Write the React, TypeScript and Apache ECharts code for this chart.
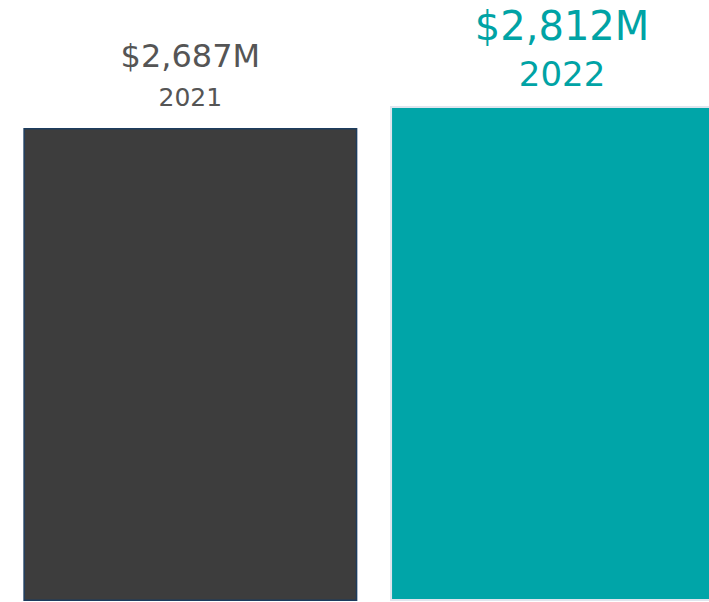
import React, { useEffect, useRef } from "react";
import * as echarts from "echarts";

const categories = ["2021", "2022"];
const values = [2687, 2812];
const valueLabels = ["$2,687M", "$2,812M"];

export default function App() {
  const ref = useRef<HTMLDivElement>(null);
  useEffect(() => {
    if (!ref.current) return;
    const chart = echarts.init(ref.current, null, { renderer: "svg" });
    const font = "DejaVu Sans";
    const styles = [
      {
        fill: "#3d3d3d",
        border: "#1d3c5e",
        bw: 1.5,
        text: "#555555",
        aSize: 32,
        bSize: 25,
        aLH: 50,
        bLH: 32,
        dist: 15,
        dx: 0,
      },
      {
        fill: "#00a5a8",
        border: "#dfe5ee",
        bw: 2,
        text: "#00a3a5",
        aSize: 40,
        bSize: 34,
        aLH: 61,
        bLH: 36,
        dist: 14,
        dx: 5,
      },
    ];
    chart.setOption({
      animation: false,
      backgroundColor: "#ffffff",
      grid: { left: 7, right: -31.4, top: 106, bottom: 1, outerBoundsMode: "none", containLabel: false },
      xAxis: {
        type: "category",
        data: categories,
        show: false,
      },
      yAxis: { type: "value", min: 0, max: "dataMax", show: false },
      series: [
        {
          type: "bar",
          barWidth: 334,
          data: values.map((v, i) => {
            const s = styles[i];
            return {
              value: v,
              itemStyle: { color: s.fill, borderColor: s.border, borderWidth: s.bw },
              label: {
                show: true,
                position: "top",
                distance: s.dist,
                offset: [s.dx, 0],
                formatter: () => `{a|${valueLabels[i]}}\n{b|${categories[i]}}`,
                rich: {
                  a: { fontFamily: font, fontSize: s.aSize, color: s.text, lineHeight: s.aLH, align: "center" },
                  b: { fontFamily: font, fontSize: s.bSize, color: s.text, lineHeight: s.bLH, align: "center" },
                },
              },
            };
          }),
        },
      ],
    });
    return () => chart.dispose();
  }, []);
  return (
    <div
      ref={ref}
      style={{ position: "fixed", left: 0, top: 0, width: 709, height: 602, background: "#fff" }}
    />
  );
}
